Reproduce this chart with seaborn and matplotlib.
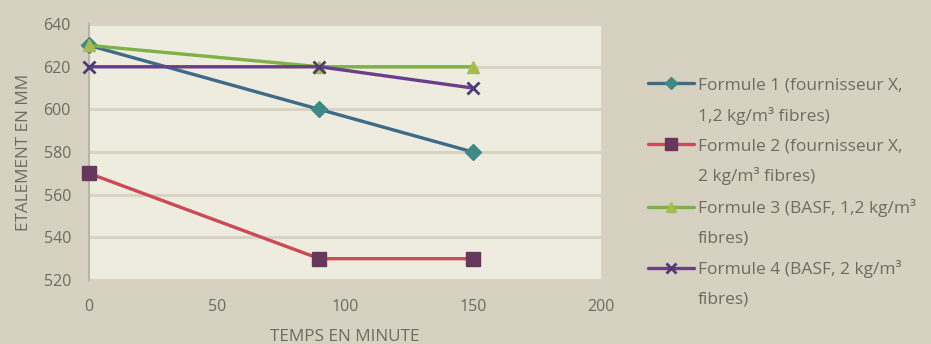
import numpy as np
import pandas as pd
import seaborn as sns
import matplotlib
matplotlib.use("Agg")
import matplotlib.pyplot as plt
from matplotlib.lines import Line2D

# Slump-flow measurements (mm) over time for four concrete mixes
temps = [0, 90, 150]
formule_1 = [630, 600, 580]
formule_2 = [570, 530, 530]
formule_3 = [630, 620, 620]
formule_4 = [620, 620, 610]

noms = [
    "Formule 1 (fournisseur X,\n1,2 kg/m\u00b3 fibres)",
    "Formule 2 (fournisseur X,\n2 kg/m\u00b3 fibres)",
    "Formule 3 (BASF, 1,2 kg/m\u00b3\nfibres)",
    "Formule 4 (BASF, 2 kg/m\u00b3\nfibres)",
]
y_ticks = [520, 540, 560, 580, 600, 620, 640]
x_ticks = [0, 50, 100, 150, 200]

series = [formule_1, formule_2, formule_3, formule_4]

couleurs_ligne = ["#3d6c88", "#cc4a55", "#7cb246", "#6a3e8c"]
couleurs_marq = ["#3f8a86", "#66395c", "#a8bc4c", "#4a3c76"]
marqueurs = ["D", "s", "^", "x"]
tailles = [8, 10, 9, 9]

fond_fig = "#d6d1c1"
fond_axe = "#eeebdf"
gris_txt = "#6f6b60"

sns.set_theme(style="white")
plt.rcParams["font.family"] = ["Open Sans", "DejaVu Sans"]

fig = plt.figure(figsize=(9.31, 3.44), dpi=100, facecolor=fond_fig)
ax = fig.add_axes([0.0956, 0.186, 0.550, 0.744])
ax.set_facecolor(fond_axe)

for nom, vals, cl, cm, mk, ms in zip(noms, series, couleurs_ligne,
                                     couleurs_marq, marqueurs, tailles):
    df = pd.DataFrame({"temps": temps, "etalement": vals})
    sns.lineplot(
        data=df, x="temps", y="etalement", ax=ax, color=cl,
        linewidth=2.4, marker=mk, markersize=ms,
        markerfacecolor=cm, markeredgecolor=cm,
        markeredgewidth=2.0 if mk == "x" else 1.0,
        clip_on=False, zorder=3,
    )

ax.set_xlim(0, 200)
ax.set_ylim(520, 640)
ax.set_xticks(x_ticks)
ax.set_yticks(y_ticks)
ax.yaxis.grid(True, color="#d8d3c3", linewidth=2.2)
ax.set_axisbelow(True)
for s in ["top", "right", "bottom"]:
    ax.spines[s].set_visible(False)
ax.spines["left"].set_color("#b9b4a4")
ax.spines["left"].set_linewidth(1.5)
ax.tick_params(axis="both", length=0, labelsize=11.5, colors=gris_txt)
ax.tick_params(axis="x", pad=14)
ax.tick_params(axis="y", pad=13)
ax.set_xlabel("TEMPS EN MINUTE", fontsize=12.3, color=gris_txt, labelpad=10)
ax.set_ylabel("ETALEMENT EN MM", fontsize=12.3, color=gris_txt, labelpad=8)

# Legend: one handle row followed by a continuation row per series
handles, labels = [], []
for nom, cl, cm, mk, ms in zip(noms, couleurs_ligne, couleurs_marq, marqueurs, tailles):
    l1, l2 = nom.split("\n")
    handles.append(Line2D([], [], color=cl, linewidth=2.4, marker=mk,
                          markersize=ms * 0.8, markerfacecolor=cm,
                          markeredgecolor=cm,
                          markeredgewidth=2.0 if mk == "x" else 1.0))
    labels.append(l1)
    handles.append(Line2D([], [], linestyle="none"))
    labels.append(l2)

leg = fig.legend(
    handles, labels, loc="upper left", bbox_to_anchor=(0.696, 0.776),
    frameon=False, fontsize=12.5, labelcolor=gris_txt,
    handlelength=2.65, handletextpad=0.22, labelspacing=0.77,
    borderaxespad=0, borderpad=0,
)

fig.savefig("out.png", dpi=100, facecolor=fond_fig)
